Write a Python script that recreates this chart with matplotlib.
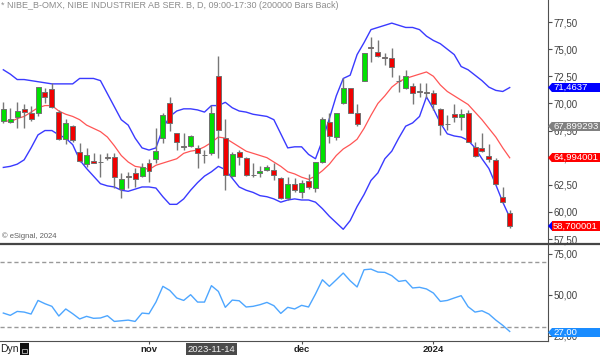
import numpy as np
import matplotlib
matplotlib.use("Agg")
import matplotlib.pyplot as plt
from matplotlib.patches import Rectangle, Polygon
from matplotlib.transforms import blended_transform_factory

plt.rcParams['font.family'] = ['Liberation Sans', 'DejaVu Sans']

# daily OHLC, NIBE B (oct 2023 - jan 2024)
opens = [68.38, 68.31, 68.71, 69.48, 69.14, 69.08, 71.08, 71.35, 69.17, 66.69,
         67.95, 65.55, 64.41, 64.72, 64.62, 65.05, 65.09, 62.08, 63.26, 63.55,
         63.30, 64.47, 64.84, 66.84, 70.00, 67.24, 66.03, 66.07, 65.92, 65.26,
         65.40, 72.52, 66.78, 63.31, 65.55, 64.93, 63.42, 63.55, 63.86, 63.86,
         63.10, 61.25, 62.57, 61.87, 62.88, 62.17, 64.63, 68.32, 66.94, 70.07,
         71.39, 69.09, 72.10, 75.19, 74.77, 74.24, 74.15, 72.09, 71.39, 71.61,
         71.10, 71.08, 70.99, 69.46, 68.12, 68.99, 68.78, 69.15, 66.01, 65.86,
         65.19, 64.79, 61.41, 59.93]
highs = [70.16, 69.60, 70.16, 69.94, 69.79, 71.55, 71.39, 71.91, 69.39, 68.56,
         67.98, 66.32, 65.92, 65.40, 65.33, 65.40, 65.46, 63.55, 63.70, 64.01,
         64.47, 64.84, 67.70, 69.08, 70.62, 67.30, 67.24, 67.10, 66.16, 65.70,
         69.85, 74.37, 68.56, 65.50, 65.70, 65.03, 64.47, 64.23, 64.32, 64.47,
         63.20, 63.25, 63.10, 62.90, 63.50, 64.63, 68.72, 69.09, 69.15, 72.31,
         71.45, 69.95, 74.62, 76.15, 75.85, 74.68, 75.08, 72.62, 73.08, 71.85,
         71.91, 71.85, 71.24, 69.55, 68.93, 69.92, 69.46, 69.40, 66.48, 67.24,
         66.26, 64.94, 62.27, 60.18]
lows = [68.16, 68.16, 67.70, 67.70, 68.38, 68.84, 70.00, 69.54, 66.62, 66.26,
        66.47, 64.63, 64.17, 64.47, 63.24, 64.78, 62.17, 61.25, 62.17, 62.32,
        63.18, 62.80, 64.47, 66.32, 67.48, 65.70, 65.70, 65.98, 64.01, 64.47,
        65.24, 64.93, 62.02, 63.20, 64.32, 63.35, 63.24, 63.18, 63.80, 62.94,
        61.16, 61.10, 61.85, 61.25, 62.15, 61.87, 64.55, 66.32, 66.63, 69.95,
        69.10, 67.90, 72.05, 73.85, 74.30, 73.54, 72.47, 71.08, 71.30, 69.95,
        70.56, 70.46, 69.39, 67.09, 67.55, 68.32, 67.55, 66.40, 65.10, 65.55,
        64.63, 62.50, 60.85, 58.49]
closes = [69.45, 68.56, 69.33, 69.24, 68.59, 71.48, 70.62, 69.70, 66.72, 68.22,
          66.62, 64.72, 65.24, 64.47, 64.58, 65.01, 63.18, 63.00, 63.22, 63.00,
          64.11, 63.77, 65.61, 68.93, 68.16, 66.47, 65.99, 67.02, 65.40, 65.22,
          69.08, 67.55, 63.40, 65.33, 65.03, 63.40, 63.38, 63.77, 64.17, 63.40,
          61.25, 62.57, 62.02, 62.70, 62.33, 64.63, 68.56, 67.00, 69.09, 71.39,
          69.15, 68.10, 74.62, 75.15, 74.37, 74.20, 73.33, 72.05, 72.56, 70.99,
          71.06, 70.93, 69.95, 68.01, 68.08, 68.78, 69.03, 66.48, 65.19, 65.65,
          64.85, 62.57, 60.95, 58.70]

# bollinger bands as drawn on the chart
bb_upper = [73.1, 72.7, 72.2, 72.2, 72.1, 72.0, 71.9, 71.8, 71.8, 71.8,
            71.8, 72.3, 72.3, 72.3, 72.1, 70.9, 69.7, 68.5, 68.0, 66.8,
            65.9, 65.7, 65.9, 67.7, 68.8, 69.3, 69.5, 69.5, 69.4, 69.2,
            69.8, 69.8, 70.1, 69.6, 69.3, 69.2, 69.0, 68.9, 68.8, 68.5,
            67.2, 65.9, 66.0, 66.0, 65.3, 64.9, 66.6, 68.6, 70.7, 72.3,
            72.6, 74.5, 75.6, 76.8, 77.0, 77.2, 77.4, 77.2, 77.0, 77.0,
            76.8, 76.2, 75.8, 75.5, 75.0, 74.5, 73.4, 73.1, 72.6, 72.1,
            71.5, 71.2, 71.1, 71.46]
bb_mid = [68.5, 68.3, 68.6, 68.8, 69.2, 69.6, 69.8, 69.8, 69.3, 69.0,
          68.8, 68.5, 68.0, 67.7, 67.4, 66.9, 66.1, 65.2, 64.6, 64.2,
          64.1, 63.9, 64.3, 64.5, 64.7, 64.9, 65.4, 65.6, 65.7, 66.0,
          66.4, 66.9, 66.8, 66.4, 66.0, 65.6, 65.4, 65.2, 65.0, 64.6,
          64.2, 63.7, 63.5, 63.2, 63.0, 63.3, 63.8, 64.4, 65.2, 65.8,
          66.2, 66.7, 67.7, 68.9, 70.0, 70.7, 71.5, 72.0, 72.3, 72.5,
          72.7, 72.9, 72.5, 71.7, 71.1, 70.7, 70.3, 69.9, 69.2, 68.5,
          67.7, 66.9, 65.9, 64.99]
bb_lower = [64.1, 64.2, 64.4, 64.8, 65.9, 67.1, 67.5, 67.5, 67.1, 66.8,
            66.2, 64.8, 64.0, 63.3, 62.6, 62.4, 62.3, 62.0, 61.9, 62.1,
            62.3, 62.3, 62.2, 61.4, 60.7, 60.7, 61.2, 62.0, 62.7, 63.3,
            63.7, 64.2, 63.9, 63.1, 62.3, 62.0, 61.8, 61.5, 61.4, 61.2,
            60.9, 61.1, 61.2, 61.1, 61.1, 60.9, 60.3, 59.6, 59.0, 58.4,
            59.2, 60.5, 61.6, 62.9, 63.6, 64.9, 65.6, 66.8, 67.9, 68.2,
            68.8, 70.6, 69.5, 68.2, 67.2, 67.0, 66.9, 66.6, 65.9, 64.9,
            64.0, 62.5, 60.9, 59.5]

# oscillator in lower pane
osc = [38.8, 37.4, 39.8, 39.4, 38.2, 46.5, 44.5, 42.9, 37.0, 41.3,
       38.4, 35.2, 36.8, 35.6, 35.8, 37.2, 33.7, 34.1, 34.5, 33.7,
       38.8, 38.4, 45.5, 55.1, 52.6, 48.0, 46.5, 50.0, 45.5, 45.5,
       55.5, 52.0, 42.3, 46.7, 46.3, 42.5, 42.9, 43.9, 45.3, 43.3,
       38.6, 42.3, 41.3, 43.5, 42.5, 50.4, 59.1, 55.1, 59.1, 63.2,
       58.5, 54.7, 65.2, 65.6, 63.8, 63.6, 61.6, 58.1, 58.7, 54.1,
       54.5, 53.5, 51.0, 45.9, 46.5, 48.0, 49.4, 42.7, 39.4, 40.2,
       38.2, 34.5, 31.3, 27.6]

month_pos = [21, 43, 62]
month_labels = ['nov', 'dec', '2024']
price_ticks = [57.5, 60.0, 62.5, 65.0, 67.5, 70.0, 72.5, 75.0, 77.5]
osc_ticks = [25, 50, 75]
osc_levels = [70, 30]

W, H = 600, 355
fig = plt.figure(figsize=(W / 100, H / 100), dpi=100)

def px(x0, y0, x1, y1):
    # pixel box (top-left origin) -> figure fraction rect
    return [x0 / W, (H - y1) / H, (x1 - x0) / W, (y1 - y0) / H]

ax = fig.add_axes(px(0, 0, 548, 243.5))
ax2 = fig.add_axes(px(0, 244.5, 548, 340.7), sharex=ax)

n = len(closes)
x = np.arange(n)
o = np.array(opens)
c = np.array(closes)
up = c >= o
colors = np.where(up, '#00e000', '#f00000')

ax.plot(x, bb_upper, color='#3a3aff', lw=1.0, zorder=2)
ax.plot(x, bb_lower, color='#3a3aff', lw=1.0, zorder=2)
ax.plot(x, bb_mid, color='#ff5555', lw=0.9, zorder=2)

ax.vlines(x, lows, highs, color='#777777', lw=1.0, zorder=3)
body = np.maximum(np.abs(c - o), 0.06)
ax.bar(x, body, bottom=np.minimum(o, c), width=0.72, color=colors,
       edgecolor='#707070', linewidth=0.7, zorder=4)

ax.set_xlim(-0.48, 78.52)
ax.set_ylim(57.09, 79.53)

for a in (ax, ax2):
    a.spines['left'].set_visible(False)
    a.spines['top'].set_visible(False)
    a.spines['right'].set_color('#505050')
    a.spines['bottom'].set_color('#505050')
    a.yaxis.tick_right()
    a.tick_params(axis='y', direction='out', length=3, width=0.8, color='#505050',
                  labelsize=7, labelcolor='#404040', pad=1)

ax.spines['bottom'].set_visible(False)
ax.set_yticks(price_ticks)
ax.set_yticklabels([('%.2f' % v).replace('.', ',') for v in price_ticks])
ax.tick_params(axis='x', bottom=False, labelbottom=False)

# lower pane
ax2.plot(x, osc, color='#4da6ff', lw=1.0, zorder=3)
for lv in osc_levels:
    ax2.axhline(lv, color='#999999', lw=1.0, ls=(0, (3, 2)), zorder=1)
ax2.set_ylim(21.95, 80.6)
ax2.set_yticks(osc_ticks)
ax2.set_yticklabels([('%.2f' % v).replace('.', ',') for v in osc_ticks])
ax2.set_xticks(month_pos)
ax2.set_xticklabels(month_labels, fontweight='bold')
ax2.tick_params(axis='x', direction='out', length=2.5, width=0.8, color='#505050',
                labelsize=6.8, labelcolor='#202020', pad=0.8)

# separator between panes
fig.add_artist(plt.Line2D([0, 1], [(H - 244) / H] * 2, color='#454545', lw=1.6))

# price tags on the right axis
def tag(a, value, text, fc, arrow_fc, half):
    tr = blended_transform_factory(fig.transFigure, a.transData)
    a.add_patch(Rectangle((551.5 / W, value - half), 1 - 551.5 / W, 2 * half,
                          transform=tr, facecolor=fc, edgecolor='none',
                          clip_on=False, zorder=10))
    a.add_patch(Polygon([(548 / W, value), (552 / W, value + half),
                         (552 / W, value - half)], closed=True, transform=tr,
                        facecolor=arrow_fc, edgecolor='none', clip_on=False, zorder=11))
    a.text(553 / W, value, text, transform=tr, color='white', fontsize=6.8,
           va='center', ha='left', zorder=12, clip_on=False)

tag(ax, 71.4637, '71,4637', '#0000ff', '#0000ff', 0.42)
tag(ax, 67.899293, '67,899293', '#808080', '#808080', 0.42)
tag(ax, 64.994001, '64,994001', '#ff0000', '#ff0000', 0.42)
tag(ax, 58.700001, '58,700001', '#ff0000', '#0000ff', 0.42)
tag(ax2, 27.0, '27,00', '#1a8cff', '#1a8cff', 2.7)

# header and footer texts
fig.text(1 / W, 1 - 5.5 / H,
         '* NIBE_B-OMX, NIBE INDUSTRIER AB SER. B, D, 09:00-17:30 (200000 Bars Back)',
         fontsize=6.5, color='#8c8c8c', va='center', ha='left')
fig.text(2 / W, 1 - 236 / H, '\u00a9 eSignal, 2024', fontsize=5.5, color='#606060',
         va='center', ha='left')
fig.text(0, 1 - 349 / H, 'Dyn', fontsize=7.5, color='#202020', va='center', ha='left')
fig.add_artist(Rectangle((20 / W, 1 - 355 / H), 8.5 / W, 12 / H, transform=fig.transFigure,
                         facecolor='#111111', edgecolor='none'))
fig.add_artist(Rectangle((22 / W, 1 - 352.5 / H), 4.5 / W, 4 / H, transform=fig.transFigure,
                         facecolor='none', edgecolor='#bbbbbb', lw=0.6))
tr = blended_transform_factory(ax2.transData, fig.transFigure)
fig.text(30, 1 - 349 / H, '2023-11-14', transform=tr, fontsize=6.8, color='#f0f0f0',
         va='center', ha='center',
         bbox=dict(boxstyle='square,pad=0.2', facecolor='#4a4a4a', edgecolor='none'))

fig.savefig('out.png', dpi=100)
